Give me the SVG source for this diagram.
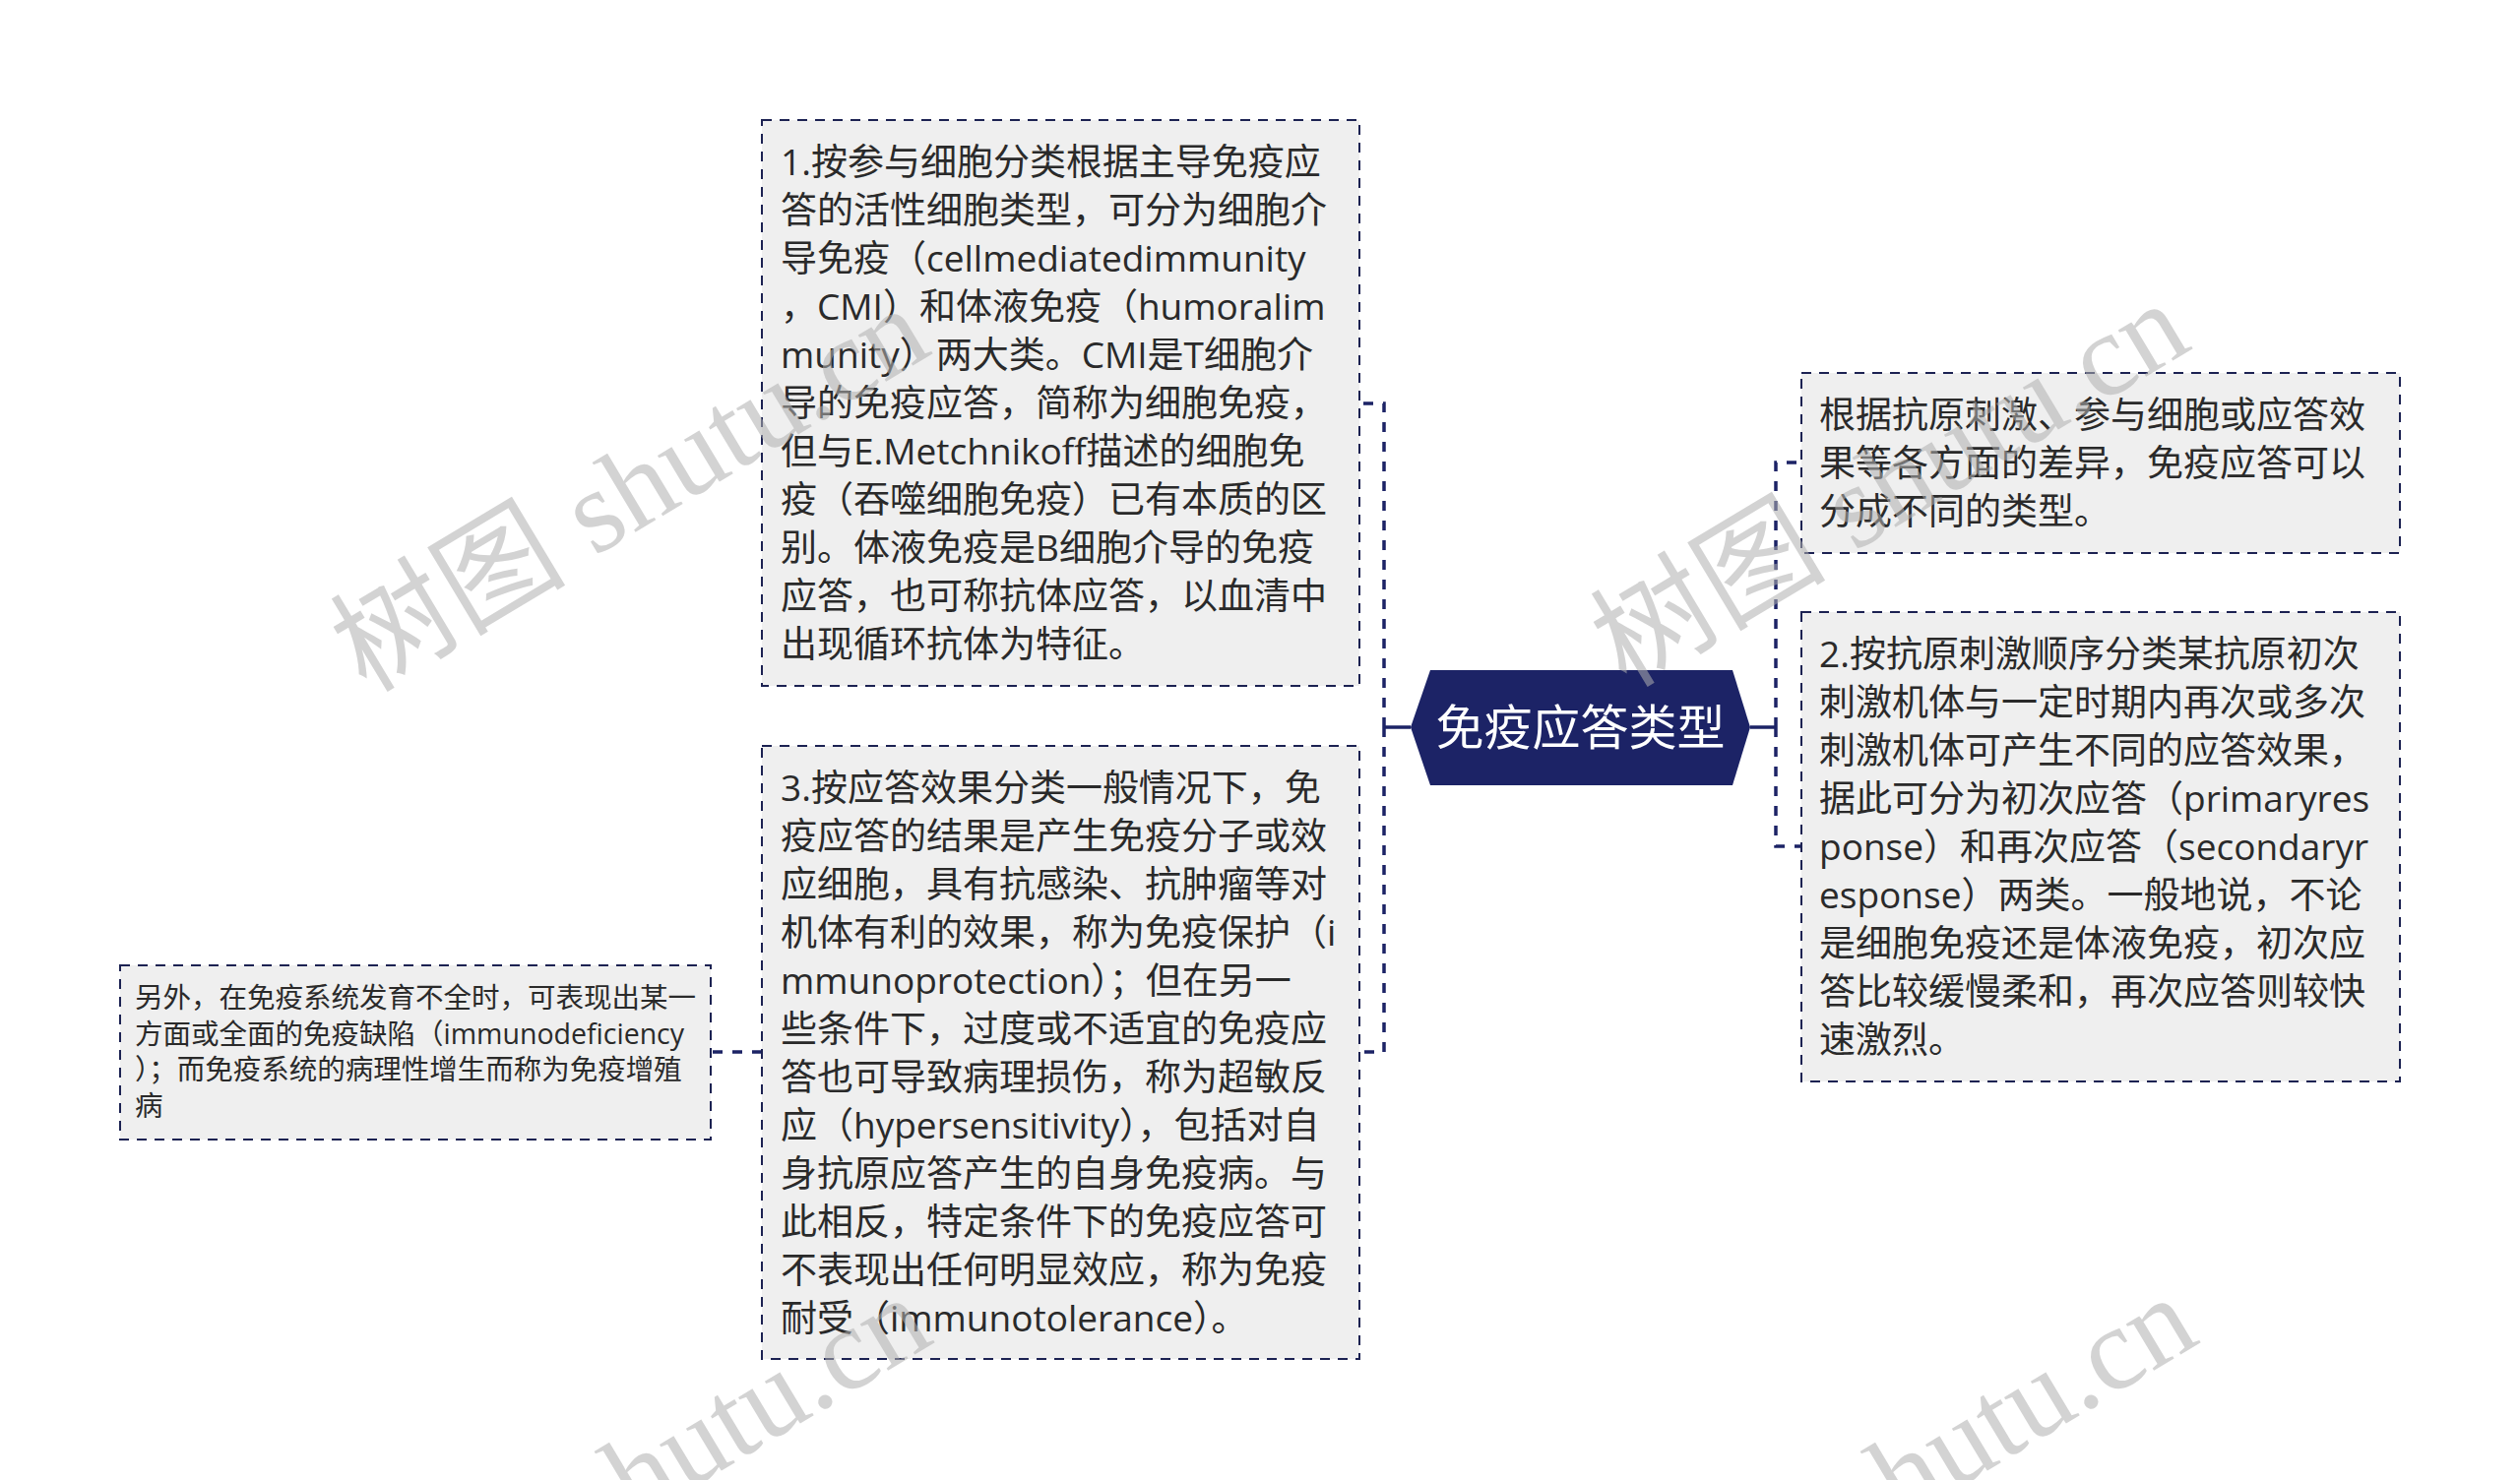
<svg xmlns="http://www.w3.org/2000/svg" width="2560" height="1504" viewBox="0 0 2560 1504">
<style>
.box{fill:#efefef;stroke:#1c2252;stroke-width:2;stroke-dasharray:10 8}
.t{font-family:"Open Sans","Noto Sans CJK SC",sans-serif;font-size:37px;fill:#2a2a2a}
.ts{font-family:"Open Sans","Noto Sans CJK SC",sans-serif;font-size:28.5px;fill:#2a2a2a}
.ct{font-family:"Open Sans","Noto Sans CJK SC",sans-serif;font-size:49px;fill:#ffffff}
.cn{fill:none;stroke:#1c2366;stroke-width:3.5;stroke-dasharray:10 10}
.cs{fill:none;stroke:#1c2366;stroke-width:3.5}
.wm{font-family:"Liberation Serif","Noto Sans CJK SC",serif;font-size:120px;fill:#b0b0b0;opacity:0.55}
</style>
<rect width="2560" height="1504" fill="#ffffff"/>
<g id="connectors">
<line class="cs" x1="1433" y1="739" x2="1406" y2="739"/>
<path class="cn" d="M1406 739 V410 H1382"/>
<path class="cn" d="M1406 739 V1069 H1382"/>
<line class="cs" x1="1778" y1="739" x2="1804" y2="739"/>
<path class="cn" d="M1804 739 V470 H1830"/>
<path class="cn" d="M1804 739 V860 H1830"/>
<path class="cn" d="M774 1069 H722"/>
</g>
<g id="center">
<polygon points="1433,739 1453,681 1760,681 1778,739 1760,798 1453,798" fill="#1c2366"/>
<text class="ct" x="1605.5" y="757" text-anchor="middle">免疫应答类型</text>
</g>
<g id="node1">
<rect class="box" x="774" y="122" width="607" height="575"/>
<text class="t">
<tspan x="793" y="178">1.按参与细胞分类根据主导免疫应</tspan>
<tspan x="793" y="227">答的活性细胞类型，可分为细胞介</tspan>
<tspan x="793" y="276">导免疫（cellmediatedimmunity</tspan>
<tspan x="793" y="325">，CMI）和体液免疫（humoralim</tspan>
<tspan x="793" y="374">munity）两大类。CMI是T细胞介</tspan>
<tspan x="793" y="423">导的免疫应答，简称为细胞免疫，</tspan>
<tspan x="793" y="472">但与E.Metchnikoff描述的细胞免</tspan>
<tspan x="793" y="521">疫（吞噬细胞免疫）已有本质的区</tspan>
<tspan x="793" y="570">别。体液免疫是B细胞介导的免疫</tspan>
<tspan x="793" y="619">应答，也可称抗体应答，以血清中</tspan>
<tspan x="793" y="668">出现循环抗体为特征。</tspan>
</text>
</g>
<g id="node3">
<rect class="box" x="774" y="758" width="607" height="623"/>
<text class="t">
<tspan x="793" y="814">3.按应答效果分类一般情况下，免</tspan>
<tspan x="793" y="863">疫应答的结果是产生免疫分子或效</tspan>
<tspan x="793" y="912">应细胞，具有抗感染、抗肿瘤等对</tspan>
<tspan x="793" y="961">机体有利的效果，称为免疫保护（i</tspan>
<tspan x="793" y="1010">mmunoprotection）；但在另一</tspan>
<tspan x="793" y="1059">些条件下，过度或不适宜的免疫应</tspan>
<tspan x="793" y="1108">答也可导致病理损伤，称为超敏反</tspan>
<tspan x="793" y="1157">应（hypersensitivity），包括对自</tspan>
<tspan x="793" y="1206">身抗原应答产生的自身免疫病。与</tspan>
<tspan x="793" y="1255">此相反，特定条件下的免疫应答可</tspan>
<tspan x="793" y="1304">不表现出任何明显效应，称为免疫</tspan>
<tspan x="793" y="1353">耐受（immunotolerance）。</tspan>
</text>
</g>
<g id="node4">
<rect class="box" x="122" y="981" width="600" height="177"/>
<text class="ts">
<tspan x="137" y="1024">另外，在免疫系统发育不全时，可表现出某一</tspan>
<tspan x="137" y="1060.5">方面或全面的免疫缺陷（immunodeficiency</tspan>
<tspan x="137" y="1097">）；而免疫系统的病理性增生而称为免疫增殖</tspan>
<tspan x="137" y="1133.5">病</tspan>
</text>
</g>
<g id="nodeR1">
<rect class="box" x="1830" y="379" width="608" height="183"/>
<text class="t">
<tspan x="1848" y="435">根据抗原刺激、参与细胞或应答效</tspan>
<tspan x="1848" y="484">果等各方面的差异，免疫应答可以</tspan>
<tspan x="1848" y="533">分成不同的类型。</tspan>
</text>
</g>
<g id="node2">
<rect class="box" x="1830" y="622" width="608" height="477"/>
<text class="t">
<tspan x="1848" y="678">2.按抗原刺激顺序分类某抗原初次</tspan>
<tspan x="1848" y="727">刺激机体与一定时期内再次或多次</tspan>
<tspan x="1848" y="776">刺激机体可产生不同的应答效果，</tspan>
<tspan x="1848" y="825">据此可分为初次应答（primaryres</tspan>
<tspan x="1848" y="874">ponse）和再次应答（secondaryr</tspan>
<tspan x="1848" y="923">esponse）两类。一般地说，不论</tspan>
<tspan x="1848" y="972">是细胞免疫还是体液免疫，初次应</tspan>
<tspan x="1848" y="1021">答比较缓慢柔和，再次应答则较快</tspan>
<tspan x="1848" y="1070">速激烈。</tspan>
</text>
</g>
<g id="watermarks">
<text class="wm" x="372" y="705" transform="rotate(-31 372 705)">树图 shutu.cn</text>
<text class="wm" x="1652" y="700" transform="rotate(-31 1652 700)">树图 shutu.cn</text>
<text class="wm" x="374" y="1710" transform="rotate(-31 374 1710)">树图 shutu.cn</text>
<text class="wm" x="1660" y="1710" transform="rotate(-31 1660 1710)">树图 shutu.cn</text>
</g>
</svg>
